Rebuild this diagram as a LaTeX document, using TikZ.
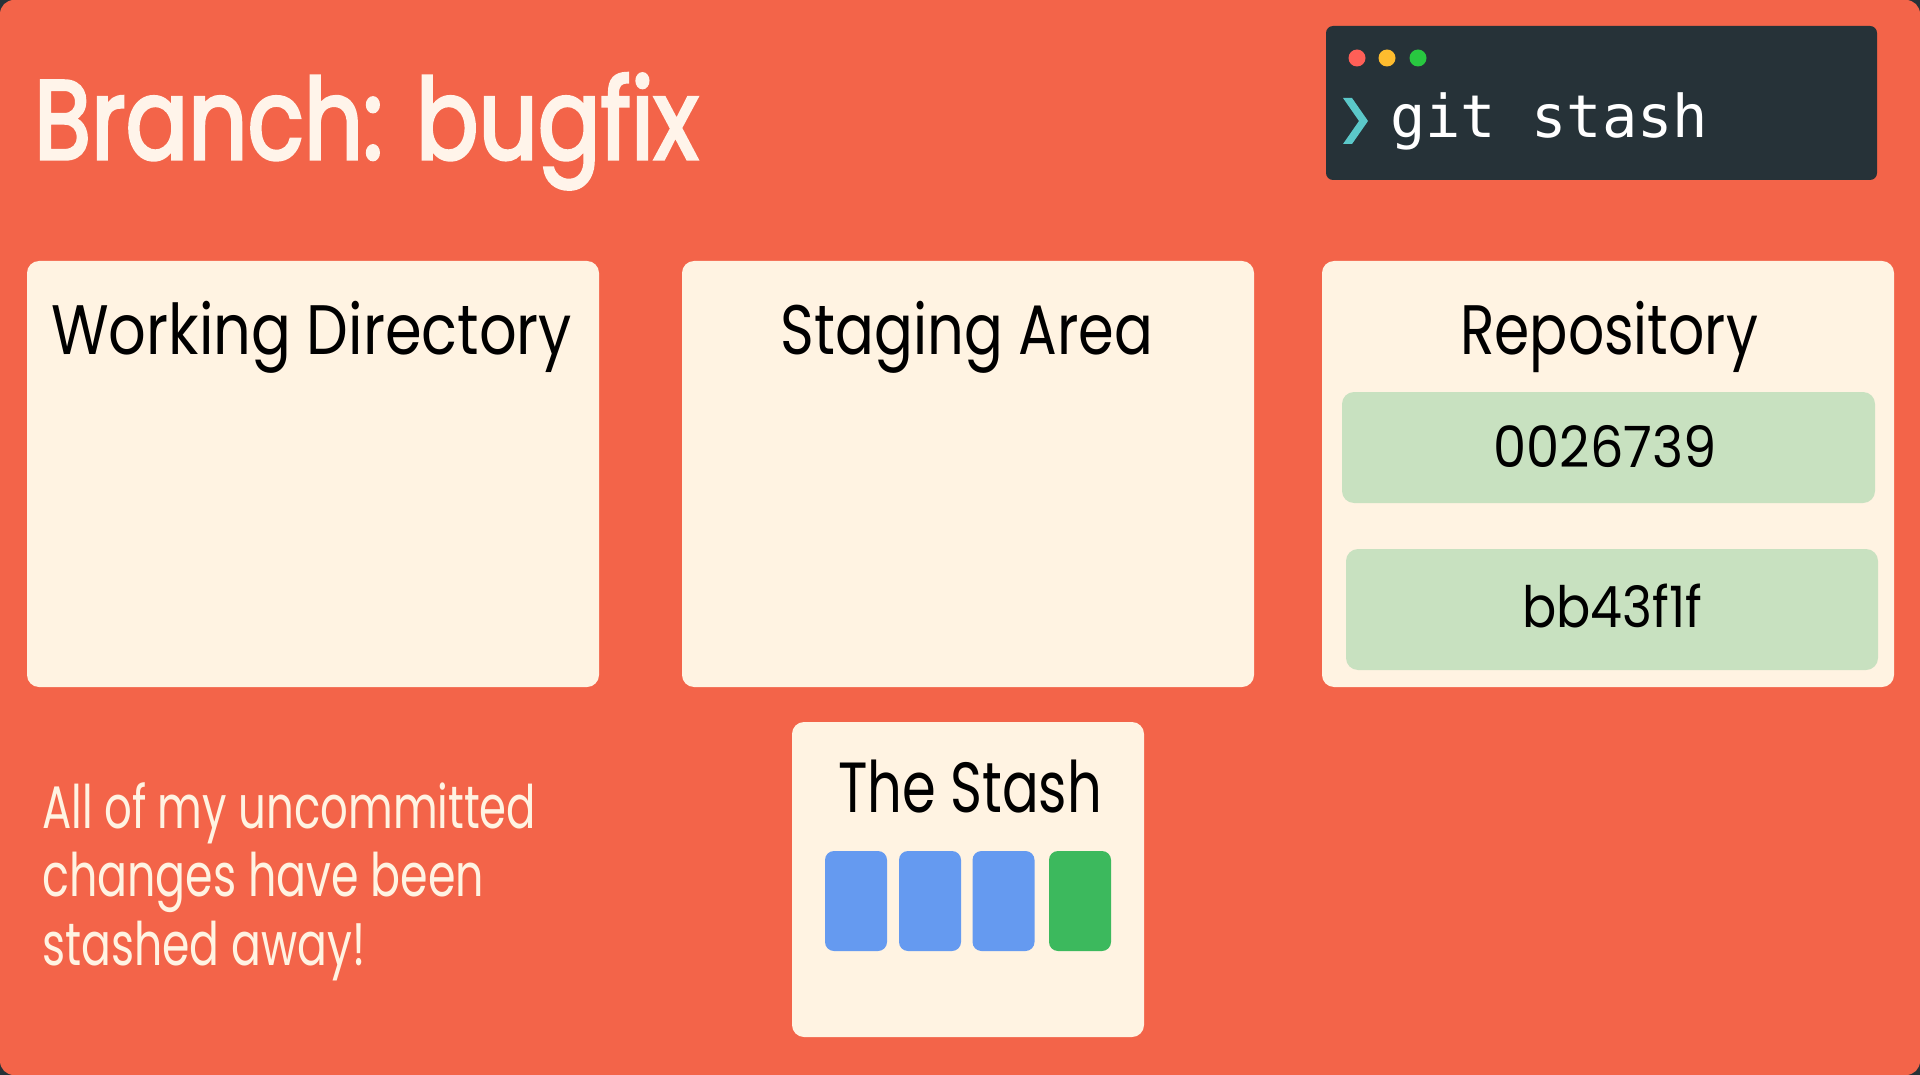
\documentclass[tikz,border=0pt]{standalone}
\usepackage{fontspec}
\setmainfont{Poppins}
\newfontfamily\titlefont{Poppins}[FakeBold=3]
\newfontfamily\termfont{DejaVu Sans Mono}
\usepackage{graphicx}
\definecolor{coral}{HTML}{F36449}
\definecolor{cream}{HTML}{FFF3E2}
\definecolor{titlecol}{HTML}{FFF4EA}
\definecolor{cornergray}{HTML}{263238}
\definecolor{termbg}{HTML}{263238}
\definecolor{dotred}{HTML}{FF5F57}
\definecolor{dotyellow}{HTML}{FEBC2E}
\definecolor{dotgreen}{HTML}{28C840}
\definecolor{prompt}{HTML}{5BC8C9}
\definecolor{commitgreen}{HTML}{C8E1C0}
\definecolor{stashblue}{HTML}{659AF0}
\definecolor{stashgreen}{HTML}{3CB95D}
\newcommand\fitw[2]{\resizebox{#1}{\height}{#2}}
\tikzset{
  panel/.style={rectangle, fill=cream, draw=none, rounded corners=12pt, inner sep=0pt},
  commitbox/.style={rectangle, fill=commitgreen, draw=none, rounded corners=12pt, inner sep=0pt},
  stashitem/.style={rectangle, draw=none, rounded corners=9pt, inner sep=0pt, minimum width=62pt, minimum height=100pt},
  dot/.style={circle, draw=none, inner sep=0pt, minimum size=17pt},
  lbl/.style={inner sep=0pt, anchor=base, text=black, font=\fontsize{70}{70}\selectfont},
}
\begin{document}
\begin{tikzpicture}[x=1pt,y=-1pt]
\useasboundingbox (0,0) rectangle (1920,1075);
\fill[cornergray] (0,0) rectangle (1920,1075);
\fill[coral, rounded corners=14pt] (0,0) rectangle (1920,1075);

% title
\node[anchor=base west, inner sep=0pt, text=titlecol, font=\titlefont\fontsize{112}{112}\selectfont] (title) at (34,159) {\fitw{664pt}{Branch: bugfix}};

% terminal
\node[rectangle, fill=termbg, rounded corners=7pt, inner sep=0pt, minimum width=551pt, minimum height=154pt] (term) at (1601.5,103) {};
\node[dot, fill=dotred] (d1) at (1357,58) {};
\node[dot, fill=dotyellow] (d2) at (1387,58) {};
\node[dot, fill=dotgreen] (d3) at (1418,58) {};
\fill[prompt] (1343,98) -- (1352,98) -- (1368,121) -- (1352,144) -- (1343,144) -- (1359,121) -- cycle;
\node[anchor=base west, inner sep=0pt, text=white, font=\termfont\fontsize{59}{59}\selectfont] (cmd) at (1390,138) {\fitw{318pt}{git stash}};

% panels
\node[panel, minimum width=572pt, minimum height=426pt] (wd) at (313,474) {};
\node[panel, minimum width=572pt, minimum height=426pt] (sa) at (968,474) {};
\node[panel, minimum width=572pt, minimum height=426pt] (repo) at (1608,474) {};
\node[lbl, anchor=base west] (wdl) at (51,355) {\fitw{521pt}{Working Directory}};
\node[lbl] (sal) at (967,355) {\fitw{372pt}{Staging Area}};
\node[lbl] (repol) at (1609,355) {\fitw{298pt}{Repository}};

% commits
\node[commitbox, minimum width=533pt, minimum height=111pt] (c1) at (1608.5,447.5) {};
\node[commitbox, minimum width=532pt, minimum height=121pt] (c2) at (1612,609.5) {};
\node[lbl, font=\fontsize{57}{57}\selectfont] (c1l) at (1605,467) {\fitw{223pt}{0026739}};
\node[lbl, font=\fontsize{57}{57}\selectfont] (c2l) at (1612,627) {\fitw{180pt}{bb43f1f}};

% stash
\node[panel, minimum width=352pt, minimum height=315pt] (stash) at (968,879.5) {};
\node[lbl, font=\fontsize{71}{71}\selectfont] (stashl) at (970,812) {\fitw{264pt}{The Stash}};
\node[stashitem, fill=stashblue] (s1) at (856,901) {};
\node[stashitem, fill=stashblue] (s2) at (930,901) {};
\node[stashitem, fill=stashblue] (s3) at (1003.5,901) {};
\node[stashitem, fill=stashgreen] (s4) at (1080,901) {};

% bottom-left message
\node[anchor=base west, inner sep=0pt, text=cream, font=\fontsize{60}{68.5}\selectfont, align=left] (msg) at (42,965)
  {\fitw{494pt}{All of my uncommitted}\\ \fitw{442pt}{changes have been}\\ \fitw{323pt}{stashed away!}};
\end{tikzpicture}
\end{document}
